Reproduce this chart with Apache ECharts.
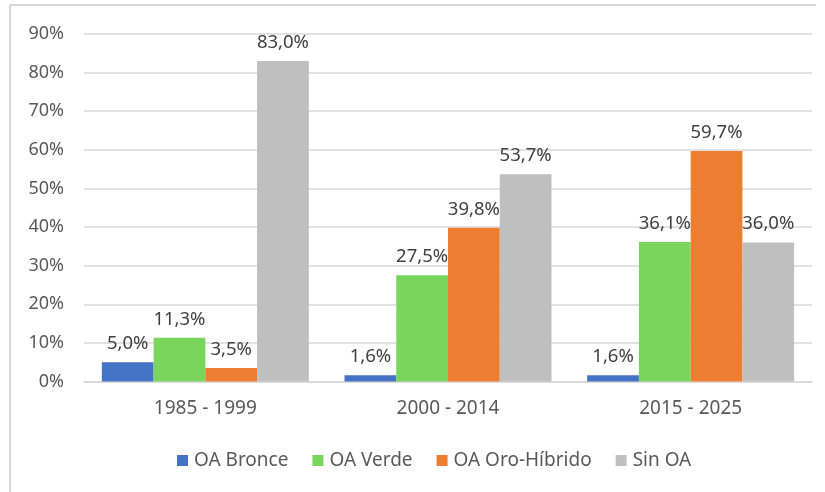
<!DOCTYPE html>
<html>
<head>
<meta charset="utf-8">
<script src="https://cdn.jsdelivr.net/npm/echarts@6/dist/echarts.min.js"></script>
<style>
html,body{margin:0;padding:0;background:#fff;}
#chart{width:825px;height:492px;}
</style>
</head>
<body>
<div id="chart"></div>
<script>
var categories = ['1985 - 1999', '2000 - 2014', '2015 - 2025'];
var seriesNames = ['OA Bronce', 'OA Verde', 'OA Oro-Híbrido', 'Sin OA'];
var bronce = [5.0, 1.6, 1.6];
var verde = [11.3, 27.5, 36.1];
var oroHibrido = [3.5, 39.8, 59.7];
var sinOA = [83.0, 53.7, 36.0];
var yTicks = [0, 10, 20, 30, 40, 50, 60, 70, 80, 90];

var colors = ['#4472C4', '#7AD55C', '#ED7D31', '#BFBFBF'];
var FONT = 'Noto Sans';
var values = [bronce, verde, oroHibrido, sinOA];

function fmt(v) { return v.toFixed(1).replace('.', ',') + '%'; }

var chart = echarts.init(document.getElementById('chart'), null, {renderer: 'canvas'});
chart.setOption({
  animation: false,
  backgroundColor: '#ffffff',
  color: colors,
  textStyle: {fontFamily: FONT},
  graphic: [
    {type: 'line', shape: {x1: 10, y1: 5, x2: 816, y2: 5}, style: {stroke: '#d9d9d9', lineWidth: 2}},
    {type: 'line', shape: {x1: 10, y1: 5, x2: 10, y2: 492}, style: {stroke: '#d9d9d9', lineWidth: 2}}
  ],
  legend: {
    left: 172,
    top: 446,
    itemWidth: 11,
    itemHeight: 11,
    itemGap: 24,
    icon: 'rect',
    textStyle: {fontFamily: FONT, fontSize: 19, color: '#595959', padding: [0, 0, 0, 1]},
    data: seriesNames
  },
  grid: {left: 84, right: 13, top: 34, bottom: 110.5, containLabel: false},
  xAxis: {
    type: 'category',
    data: categories,
    axisLine: {show: true, lineStyle: {color: '#d9d9d9', width: 1.5}},
    axisTick: {show: false},
    axisLabel: {fontFamily: FONT, fontSize: 19, color: '#595959', margin: 18}
  },
  yAxis: {
    type: 'value',
    min: yTicks[0],
    max: yTicks[yTicks.length - 1],
    interval: 10,
    axisLine: {show: false},
    axisTick: {show: false},
    splitLine: {lineStyle: {color: '#d9d9d9', width: 1.5}},
    axisLabel: {fontFamily: FONT, fontSize: 18, color: '#595959', margin: 20,
      formatter: function (v) { return v + '%'; }}
  },
  series: seriesNames.map(function (name, i) {
    return {
      name: name,
      type: 'bar',
      data: values[i],
      barGap: '0%',
      barCategoryGap: '14.7%',
      itemStyle: {color: colors[i]},
      label: {
        show: true,
        position: 'top',
        distance: 9,
        fontFamily: FONT,
        fontSize: 18.5,
        color: '#404040',
        formatter: function (p) { return fmt(p.value); }
      }
    };
  })
});
</script>
</body>
</html>
